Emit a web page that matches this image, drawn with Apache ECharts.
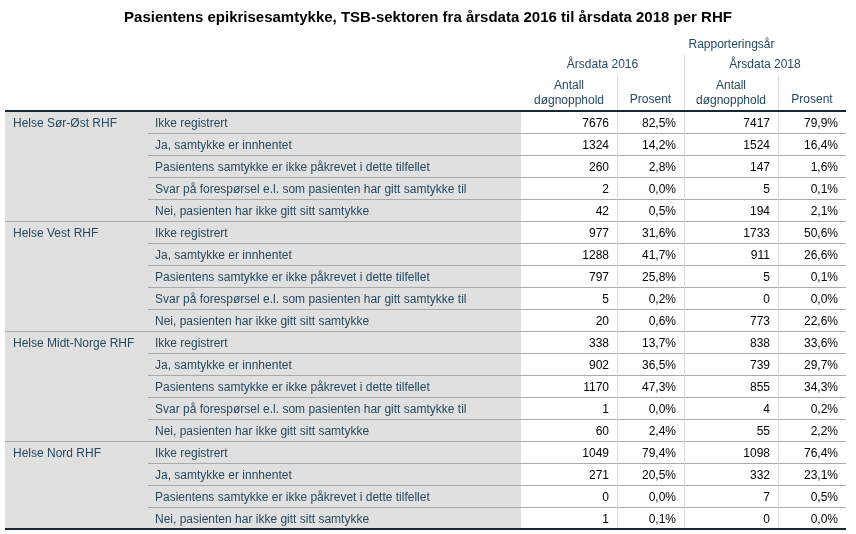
<!DOCTYPE html>
<html>
<head>
<meta charset="utf-8">
<script src="https://cdn.jsdelivr.net/npm/echarts@6/dist/echarts.min.js"></script>
<style>html,body{margin:0;padding:0;background:#fff}#c{width:856px;height:534px}</style>
</head>
<body>
<div id="c"></div>
<script>
const titleText = 'Pasientens epikrisesamtykke, TSB-sektoren fra årsdata 2016 til årsdata 2018 per RHF';
const groups = ['Helse Sør-Øst RHF', 'Helse Vest RHF', 'Helse Midt-Norge RHF', 'Helse Nord RHF'];
const categories = [
  'Ikke registrert',
  'Ja, samtykke er innhentet',
  'Pasientens samtykke er ikke påkrevet i dette tilfellet',
  'Svar på forespørsel e.l. som pasienten har gitt samtykke til',
  'Nei, pasienten har ikke gitt sitt samtykke'
];
const rowGroup    = [0,0,0,0,0, 1,1,1,1,1, 2,2,2,2,2, 3,3,3,3];
const rowCategory = [0,1,2,3,4, 0,1,2,3,4, 0,1,2,3,4, 0,1,2,4];
const antall2016  = [7676,1324,260,2,42, 977,1288,797,5,20, 338,902,1170,1,60, 1049,271,0,1];
const prosent2016 = [82.5,14.2,2.8,0.0,0.5, 31.6,41.7,25.8,0.2,0.6, 13.7,36.5,47.3,0.0,2.4, 79.4,20.5,0.0,0.1];
const antall2018  = [7417,1524,147,5,194, 1733,911,5,0,773, 838,739,855,4,55, 1098,332,7,0];
const prosent2018 = [79.9,16.4,1.6,0.1,2.1, 50.6,26.6,0.1,0.0,22.6, 33.6,29.7,34.3,0.2,2.2, 76.4,23.1,0.5,0.0];
const headerTop = 'Rapporteringsår';
const headerYears = ['Årsdata 2016', 'Årsdata 2018'];
const headerCols = ['Antall\ndøgnopphold', 'Prosent', 'Antall\ndøgnopphold', 'Prosent'];

// layout (column edges in x-axis units = px)
const edges = [5, 148, 521, 617, 684, 778, 846];
const FONT = '"Liberation Sans", Arial, sans-serif';
const LABEL = '#264a60';
const NUM = '#010205';

const fmtPct = v => v.toFixed(1).replace('.', ',') + '%';
const rowIdx = rowGroup.map((g, i) => i);

const chart = echarts.init(document.getElementById('c'));

function crisp(v) { return Math.round(v) + 0.5; }

function bgItem(params, api) {
  const r = api.value(1);
  const h = api.size([0, 1])[1];
  const cy = api.coord([edges[0], r])[1];
  const top = cy - h / 2;
  const x0 = api.coord([edges[0], r])[0];
  const xg = api.coord([edges[2], r])[0];
  const x1 = api.coord([edges[6], r])[0];
  return {
    type: 'group',
    children: [
      { type: 'rect', shape: { x: x0, y: top, width: xg - x0, height: h }, style: { fill: '#e0e0e0' } },
      { type: 'rect', shape: { x: xg, y: top, width: x1 - xg, height: h }, style: { fill: '#ffffff' } }
    ]
  };
}

function cellItem(params, api) {
  const r = api.value(1);
  const h = api.size([0, 1])[1];
  const cy = api.coord([edges[0], r])[1];
  const top = cy - h / 2;
  const bot = top + h;
  const X = e => api.coord([e, r])[0];
  const children = [];
  [3, 4, 5].forEach(k => {
    children.push({ type: 'line', shape: { x1: crisp(X(edges[k])), y1: top, x2: crisp(X(edges[k])), y2: bot },
      style: { stroke: '#dcdcdc', lineWidth: 1 } });
  });
  const last = r === rowGroup.length - 1;
  const groupEnd = last || rowGroup[r + 1] !== rowGroup[r];
  if (!last) {
    children.push({ type: 'line', shape: { x1: X(groupEnd ? edges[0] : edges[1]), y1: crisp(bot), x2: X(edges[6]), y2: crisp(bot) },
      style: { stroke: '#aaaaaa', lineWidth: 1 } });
  }
  const ty = cy + 2;
  const firstInGroup = r === 0 || rowGroup[r - 1] !== rowGroup[r];
  if (firstInGroup) {
    children.push({ type: 'text', x: X(edges[0]) + 8, y: ty,
      style: { text: groups[rowGroup[r]], fill: LABEL, font: '12px ' + FONT, align: 'left', verticalAlign: 'middle' } });
  }
  children.push({ type: 'text', x: X(edges[1]) + 7, y: ty,
    style: { text: categories[rowCategory[r]], fill: LABEL, font: '12px ' + FONT, align: 'left', verticalAlign: 'middle' } });
  const vals = [String(antall2016[r]), fmtPct(prosent2016[r]), String(antall2018[r]), fmtPct(prosent2018[r])];
  vals.forEach((t, k) => {
    children.push({ type: 'text', x: X(edges[k + 3]) - 8, y: ty,
      style: { text: t, fill: NUM, font: '12px ' + FONT, align: 'right', verticalAlign: 'middle' } });
  });
  return { type: 'group', children };
}

const hdrText = (x, y, t) => ({ type: 'text', x, y, z: 10,
  style: { text: t, fill: LABEL, font: '12px ' + FONT, align: 'center', verticalAlign: 'middle', lineHeight: 15 } });
const vline = (x, y1, y2, c) => ({ type: 'line', z: 10, shape: { x1: x + 0.5, y1, x2: x + 0.5, y2 }, style: { stroke: c, lineWidth: 1 } });

chart.setOption({
  animation: false,
  backgroundColor: '#ffffff',
  title: {
    text: titleText, left: 'center', top: 10, padding: 0,
    textStyle: { fontFamily: FONT, fontSize: 15, fontWeight: 'bold', color: '#000' }
  },
  grid: { left: 5, right: 10, top: 111, bottom: 5, containLabel: false },
  xAxis: { type: 'value', min: edges[0], max: edges[6], show: false },
  yAxis: { type: 'category', data: rowIdx, inverse: true, show: false, boundaryGap: true },
  graphic: [
    hdrText((edges[3] + edges[6]) / 2, 45, headerTop),
    hdrText((edges[2] + edges[4]) / 2, 65, headerYears[0]),
    hdrText((edges[4] + edges[6]) / 2, 65, headerYears[1]),
    hdrText((edges[2] + edges[3]) / 2, 93, headerCols[0]),
    hdrText((edges[3] + edges[4]) / 2, 100, headerCols[1]),
    hdrText((edges[4] + edges[5]) / 2, 93, headerCols[2]),
    hdrText((edges[5] + edges[6]) / 2, 100, headerCols[3]),
    vline(edges[4], 55, 111, '#dcdcdc'),
    vline(edges[3], 76, 111, '#dcdcdc'),
    vline(edges[5], 76, 111, '#dcdcdc'),
    { type: 'line', z: 20, shape: { x1: edges[0], y1: 111, x2: edges[6], y2: 111 }, style: { stroke: '#152935', lineWidth: 2 } },
    { type: 'line', z: 20, shape: { x1: edges[0], y1: 529, x2: edges[6], y2: 529 }, style: { stroke: '#152935', lineWidth: 2 } }
  ],
  series: [
    { type: 'custom', z: 1, renderItem: bgItem, data: rowIdx.map(i => [0, i]), encode: { x: 0, y: 1 }, silent: true },
    { type: 'custom', z: 2, renderItem: cellItem, data: rowIdx.map(i => [0, i]), encode: { x: 0, y: 1 }, silent: true }
  ]
});
</script>
</body>
</html>
